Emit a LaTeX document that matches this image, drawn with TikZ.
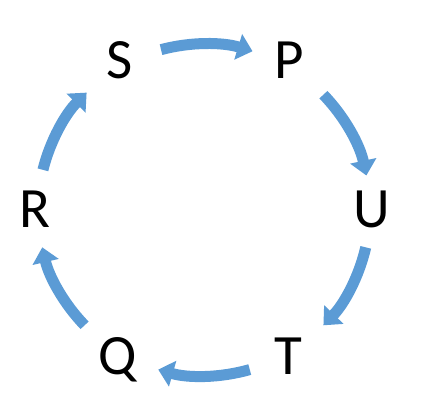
\documentclass[tikz,border=0pt]{standalone}
\usepackage{fontspec}
\setmainfont{Carlito}
\usetikzlibrary{arrows.meta}
\definecolor{arrblue}{HTML}{5B9BD5}
\begin{document}
\begin{tikzpicture}[x=1pt,y=1pt,
  lbl/.style={anchor=base,inner sep=0pt,font=\fontsize{57}{60}\selectfont},
  cyc/.style={draw=arrblue,line width=11pt,-{Triangle[width=26pt,length=15pt]}}]
\useasboundingbox (0,0) rectangle (431,405);
\coordinate (c) at (204,195);
\node[lbl] (S) at (119.5,326) {S};
\node[lbl] (P) at (289,326) {P};
\node[lbl] (U) at (372,178) {U};
\node[lbl] (T) at (288,31) {T};
\node[lbl] (Q) at (118,31) {Q};
\node[lbl] (R) at (35,178) {R};
\draw[cyc] ([shift={(c)}]105:166) arc (105:73:166);
\draw[cyc] ([shift={(c)}]44:166) arc (44:12:166);
\draw[cyc] ([shift={(c)}]-13:166) arc (-13:-44:166);
\draw[cyc] ([shift={(c)}]-74:166) arc (-74:-106:166);
\draw[cyc] ([shift={(c)}]-136:166) arc (-136:-167:166);
\draw[cyc] ([shift={(c)}]166:166) arc (166:135:166);
\end{tikzpicture}
\end{document}
